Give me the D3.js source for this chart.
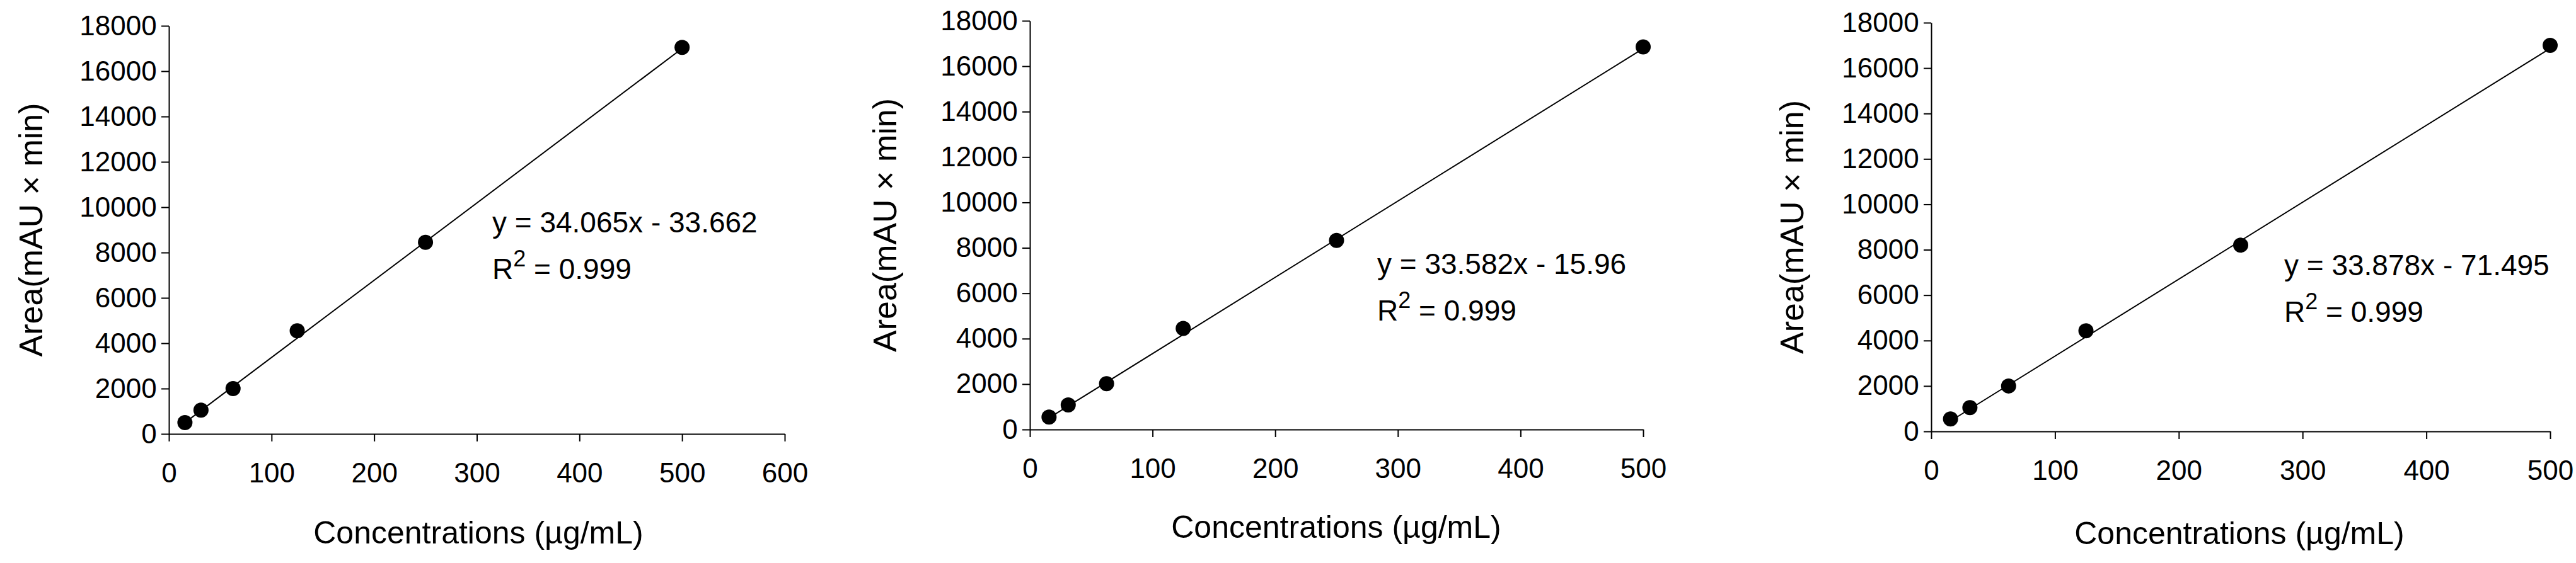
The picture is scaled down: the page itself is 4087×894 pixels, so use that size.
<!DOCTYPE html>
<html><head><meta charset="utf-8">
<script src="https://cdn.jsdelivr.net/npm/d3@7"></script>
<style>body{margin:0;background:#fff}text{font-family:"Liberation Sans",Arial,sans-serif}</style>
</head><body><div id="chart"></div>
<script>
const conc = [15.6, 31.25, 62.5, 125, 250, 500];
const area1 = [500, 1050, 2000, 4550, 8450, 17050];
const area2 = [550, 1080, 2020, 4450, 8330, 16850];
const area3 = [550, 1050, 2000, 4430, 8200, 17000];
const slopes = [34.065, 33.582, 33.878];
const intercepts = [-33.662, -15.96, -71.495];
const eqLabels = ["y = 34.065x - 33.662", "y = 33.582x - 15.96", "y = 33.878x - 71.495"];
const xMaxes = [600, 500, 500];
const yTicks = d3.range(0, 18001, 2000);

const panels = [
  {data: area1, x0: 268, x1: 1245, y0: 689, y1: 41, yl: 49, xl: 759, xlY: 847, eqX: 781, eqY: 369},
  {data: area2, x0: 1634, x1: 2607, y0: 682, y1: 33, yl: 1404, xl: 2120, xlY: 838, eqX: 2185, eqY: 435},
  {data: area3, x0: 3064, x1: 4046, y0: 685, y1: 36, yl: 2843, xl: 3553, xlY: 848, eqX: 3624, eqY: 437}
];

const svg = d3.select("#chart").append("svg").attr("width", 4087).attr("height", 894);

panels.forEach((p, i) => {
  const g = svg.append("g");
  const x = d3.scaleLinear().domain([0, xMaxes[i]]).range([p.x0, p.x1]);
  const y = d3.scaleLinear().domain([0, 18000]).range([p.y0, p.y1]);

  const xa = g.append("g").attr("transform", `translate(0,${p.y0})`)
    .call(d3.axisBottom(x).ticks(xMaxes[i] / 100).tickSize(12).tickSizeOuter(0));
  const ya = g.append("g").attr("transform", `translate(${p.x0},0)`)
    .call(d3.axisLeft(y).tickValues(yTicks).tickSize(12).tickSizeOuter(0).tickFormat(d3.format("d")));
  [xa, ya].forEach(a => {
    a.selectAll("path,line").attr("stroke", "#000").attr("stroke-width", 2);
    a.selectAll("text").attr("font-size", 44).attr("fill", "#000").style("font-family", "Liberation Sans, Arial");
  });
  xa.selectAll("text").attr("dy", "1.4em");
  ya.selectAll("text").attr("dx", "-0.1em");

  // fit line
  const fx = [conc[0], conc[conc.length - 1]];
  g.append("line")
    .attr("x1", x(fx[0])).attr("y1", y(slopes[i] * fx[0] + intercepts[i]))
    .attr("x2", x(fx[1])).attr("y2", y(slopes[i] * fx[1] + intercepts[i]))
    .attr("stroke", "#000").attr("stroke-width", 2);

  g.selectAll("circle.pt").data(p.data).enter().append("circle")
    .attr("cx", (d, j) => x(conc[j])).attr("cy", d => y(d)).attr("r", 12).attr("fill", "#000");

  g.append("text").attr("x", p.eqX).attr("y", p.eqY).attr("font-size", 46).text(eqLabels[i]);
  const r = g.append("text").attr("x", p.eqX).attr("y", p.eqY + 74).attr("font-size", 46);
  r.append("tspan").text("R");
  r.append("tspan").attr("baseline-shift", "super").attr("font-size", 36).text("2");
  r.append("tspan").text(" = 0.999");

  g.append("text").attr("transform", `translate(${p.yl + 18},${(p.y0 + p.y1) / 2}) rotate(-90)`)
    .attr("text-anchor", "middle").attr("font-size", 52).text("Area(mAU × min)");
  g.append("text").attr("x", p.xl).attr("y", p.xlY + 16).attr("text-anchor", "middle")
    .attr("font-size", 50).text("Concentrations (µg/mL)");
});
</script></body></html>
